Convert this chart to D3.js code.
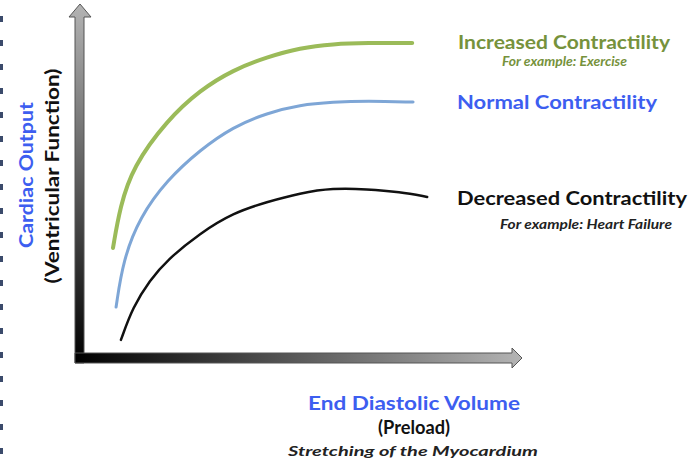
<!DOCTYPE html>
<html>
<head>
<meta charset="utf-8">
<script src="https://cdn.jsdelivr.net/npm/d3@7"></script>
<style>
  body { margin: 0; background: #fff; }
  text { font-family: Lato, "Open Sans", sans-serif; font-weight: bold; }
</style>
</head>
<body>
<script>
// GLOBAL VARIABLES
const WIDTH = 699;
const HEIGHT = 466;

// DATA (end diastolic volume vs cardiac output, arbitrary 0-100 units)
const increasedEDV = [7.5, 9.1, 12.0, 19.8, 27.3, 34.8, 42.5, 50.0, 57.5, 65.2, 75.5];
const increasedCO  = [31.1, 42.7, 54.0, 67.2, 75.7, 81.4, 85.0, 87.6, 88.7, 89.0, 89.0];
const normalEDV    = [8.2, 9.8, 13.6, 19.8, 27.3, 34.8, 42.5, 50.0, 57.5, 65.2, 75.7];
const normalCO     = [14.4, 27.7, 39.8, 50.3, 58.8, 65.3, 69.2, 71.5, 72.3, 72.6, 72.3];
const decreasedEDV = [9.3, 12.0, 15.9, 19.8, 27.3, 34.8, 42.5, 50.0, 57.5, 65.2, 72.7, 78.9];
const decreasedCO  = [5.1, 14.4, 22.0, 27.7, 35.3, 41.0, 44.1, 46.6, 48.0, 47.7, 46.9, 45.5];

const seriesNames = ["Increased Contractility", "Normal Contractility", "Decreased Contractility"];
const seriesNotes = ["For example: Exercise", "", "For example: Heart Failure"];
const yAxisTitle = ["Cardiac Output", "(Ventricular Function)"];
const xAxisTitle = ["End Diastolic Volume", "(Preload)", "Stretching of the Myocardium"];

const svg = d3.select("body").append("svg").attr("width", WIDTH).attr("height", HEIGHT);
const defs = svg.append("defs");

// SCALES
const x = d3.scaleLinear().domain([0, 100]).range([80, 520]);
const y = d3.scaleLinear().domain([0, 100]).range([358, 4]);

// left dashed border
svg.append("line")
  .attr("x1", 1.5).attr("x2", 1.5).attr("y1", 16).attr("y2", HEIGHT)
  .attr("stroke", "#3b4a6b").attr("stroke-width", 3)
  .attr("stroke-dasharray", "6 18");

// AXIS ARROWS
const vGrad = defs.append("linearGradient").attr("id", "vgrad")
  .attr("x1", 0).attr("y1", 1).attr("x2", 0).attr("y2", 0);
vGrad.append("stop").attr("offset", "0%").attr("stop-color", "#000");
vGrad.append("stop").attr("offset", "100%").attr("stop-color", "#b4b4b4");

const hGrad = defs.append("linearGradient").attr("id", "hgrad")
  .attr("x1", 0).attr("y1", 0).attr("x2", 1).attr("y2", 0);
hGrad.append("stop").attr("offset", "0%").attr("stop-color", "#000");
hGrad.append("stop").attr("offset", "100%").attr("stop-color", "#b4b4b4");

const x0 = x(0), y0 = y(0);
const xEnd = x(100) + 2, yEnd = y(100);

svg.append("path")
  .attr("d", d3.line()([
    [x0 - 5, y0 + 5], [x0 - 5, yEnd + 13], [x0 - 11, yEnd + 13], [x0, yEnd],
    [x0 + 11, yEnd + 13], [x0 + 4, yEnd + 13], [x0 + 4, y0 + 5]
  ]) + "Z")
  .attr("fill", "url(#vgrad)").attr("stroke", "#555").attr("stroke-width", 1);

svg.append("path")
  .attr("d", d3.line()([
    [x0 - 5, y0 - 5], [xEnd - 10, y0 - 5], [xEnd - 10, y0 - 10], [xEnd, y0],
    [xEnd - 10, y0 + 10], [xEnd - 10, y0 + 5], [x0 - 5, y0 + 5]
  ]) + "Z")
  .attr("fill", "url(#hgrad)").attr("stroke", "#555").attr("stroke-width", 1);

// CURVES
const curves = [
  { xs: increasedEDV, ys: increasedCO, color: "#9bbb59", width: 4 },
  { xs: normalEDV, ys: normalCO, color: "#7ea6d6", width: 3 },
  { xs: decreasedEDV, ys: decreasedCO, color: "#111", width: 2.5 }
];

const lineGen = d3.line()
  .x(d => x(d[0]))
  .y(d => y(d[1]))
  .curve(d3.curveBasis);

svg.append("g")
  .selectAll("path")
  .data(curves)
  .enter()
  .append("path")
  .attr("d", d => lineGen(d3.zip(d.xs, d.ys)))
  .attr("fill", "none")
  .attr("stroke", d => d.color)
  .attr("stroke-width", d => d.width)
  .attr("stroke-linecap", "round");

// LABELS
const addText = (txt, cx, base, size, color, len, italic) => {
  const t = svg.append("text")
    .attr("x", cx).attr("y", base)
    .attr("text-anchor", "middle")
    .attr("font-size", size)
    .attr("fill", color)
    .attr("textLength", len)
    .attr("lengthAdjust", "spacingAndGlyphs")
    .text(txt);
  if (italic) t.attr("font-style", "italic").attr("font-weight", 900);
  return t;
};

addText(seriesNames[0], 564, 49, 18, "#76923c", 212);
addText(seriesNotes[0], 564.5, 66, 13.5, "#76923c", 125, true);
addText(seriesNames[1], 557, 109, 18, "#3d5ef0", 200);
addText(seriesNames[2], 572, 205, 18, "#111", 230);
addText(seriesNotes[2], 586, 229, 13.5, "#222", 172, true);

addText(xAxisTitle[0], 414, 410, 18, "#3d5ef0", 212);
addText(xAxisTitle[1], 414, 434, 18, "#111", 72);
addText(xAxisTitle[2], 413, 456, 13.5, "#222", 250, true);

addText(yAxisTitle[0], 0, 0, 18, "#3d5ef0", 146)
  .attr("transform", "translate(33,175) rotate(-90)");
addText(yAxisTitle[1], 0, 0, 18, "#111", 215)
  .attr("transform", "translate(59,176) rotate(-90)");
</script>
</body>
</html>
